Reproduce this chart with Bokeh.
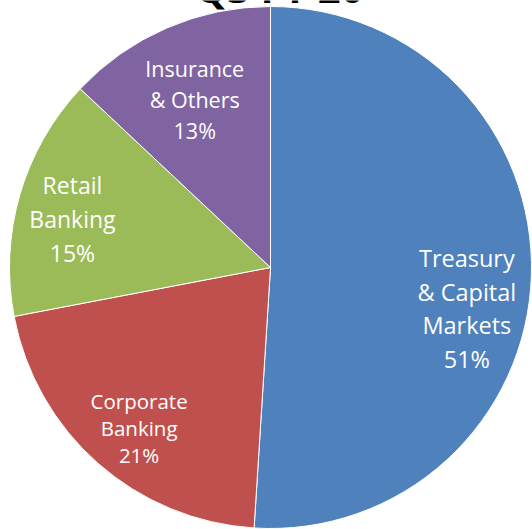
import math
from bokeh.plotting import figure
from bokeh.models import Range1d
from bokeh.core.properties import value
from bokeh.embed import file_html
from bokeh.resources import INLINE

# ---- data ----
title_text = "Q3 FY 20"
categories = ["Treasury\n& Capital\nMarkets", "Corporate\nBanking", "Retail\nBanking", "Insurance\n& Others"]
shares = [51, 21, 15, 13]

# ---- style / layout ----
colors = ["#4F81BD", "#C0504D", "#9BBB59", "#8064A2"]
font_px = [23.5, 20.5, 23, 21.5]
line_gap = [33.7, 27.0, 34.0, 31.0]
label_rfrac = [0.77, 0.80, 0.78, 0.70]
label_nudge_deg = [10.5, -2.4, -2.8, -1.1]
FONT = "Open Sans"
BASE_FIX = 0.43  # em, renderer baseline offset compensation
TITLE_PX = 40

W, H = 532, 529
CX, CY, R = 270.0, H - 267.0, 261.0

p = figure(width=W, height=H, output_backend="svg", toolbar_location=None,
           x_range=Range1d(0, W), y_range=Range1d(0, H), min_border=0)
p.axis.visible = False
p.xgrid.visible = False
p.ygrid.visible = False
p.outline_line_color = None

total = float(sum(shares))
cum = 0.0
starts, ends = [], []
lx, ly, lt, lf = [], [], [], []
for i, (name, s) in enumerate(zip(categories, shares)):
    a0 = cum / total * 2 * math.pi
    cum += s
    a1 = cum / total * 2 * math.pi
    starts.append(math.pi / 2 - a1)
    ends.append(math.pi / 2 - a0)
    mid = (a0 + a1) / 2 + math.radians(label_nudge_deg[i])
    bx = CX + label_rfrac[i] * R * math.sin(mid)
    by = CY + label_rfrac[i] * R * math.cos(mid)
    lines = name.split("\n") + [f"{s}%"]
    n = len(lines)
    cap = 0.714 * font_px[i]
    b1 = -(cap - (n - 1) * line_gap[i]) / 2 + BASE_FIX * font_px[i]
    for k, ln in enumerate(lines):
        lx.append(bx)
        ly.append(by + b1 - k * line_gap[i])
        lt.append(ln)
        lf.append(f"{font_px[i]}px")

p.wedge(x=[CX] * 4, y=[CY] * 4, radius=R, start_angle=starts, end_angle=ends,
        fill_color=colors, line_color="white", line_width=1)

p.text(x=lx, y=ly, text=lt, text_font_size=lf, text_align="center",
       text_baseline="alphabetic", text_color="white", text_font=value(FONT))

p.text(x=[279], y=[H - 4.5 + BASE_FIX * TITLE_PX], text=[title_text], text_align="center",
       text_baseline="alphabetic", text_font_size=f"{TITLE_PX}px", text_font_style="bold",
       text_color="black", text_font=value(FONT))

open("out.html", "w").write(file_html(p, INLINE))
